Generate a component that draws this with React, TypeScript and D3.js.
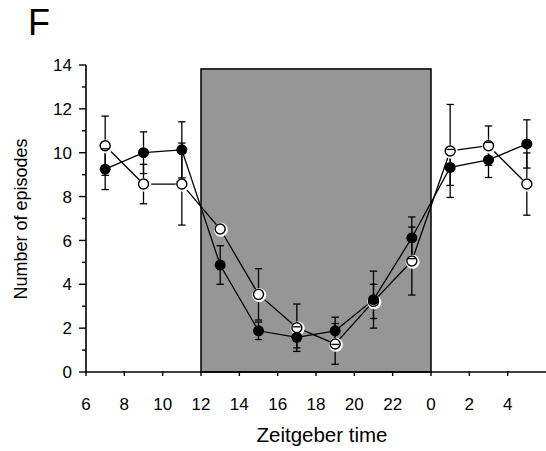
import React from "react";
import * as d3 from "d3";

const width = 546;
const height = 451;
const margin = { top: 65, right: 0, bottom: 79, left: 86 };

// Zeitgeber time (continuous hours, 25 = ZT1 of the next day)
const hours = [7, 9, 11, 13, 15, 17, 19, 21, 23, 25, 27, 29];
const filledMean = [9.25, 10.0, 10.13, 4.88, 1.88, 1.58, 1.88, 3.3, 6.12, 9.33, 9.67, 10.4];
const filledErr = [0.93, 0.95, 1.28, 0.88, 0.4, 0.48, 0.62, 1.3, 0.95, 0.82, 0.8, 1.1];
const openMean = [10.32, 8.57, 8.57, 6.52, 3.54, 2.02, 1.28, 3.22, 5.06, 10.08, 10.32, 8.57];
const openErr = [1.35, 0.9, 1.87, 0.15, 1.17, 1.08, 0.93, 0.78, 1.55, 2.12, 0.9, 1.42];
const darkPhase = [12, 24];
const darkTop = 13.82;
const xTicks = [6, 8, 10, 12, 14, 16, 18, 20, 22, 24, 26, 28];
const yTicks = [0, 2, 4, 6, 8, 10, 12, 14];
const yMinor = [1, 3, 5, 7, 9, 11, 13];

const font = "Arial, 'Liberation Sans', Helvetica, sans-serif";

export default function App() {
  const x = d3.scaleLinear().domain([6, 30]).range([margin.left, width - margin.right]);
  const y = d3.scaleLinear().domain([0, 14]).range([height - margin.bottom, margin.top]);

  const line = d3
    .line<number>()
    .x((d, i) => x(hours[i]))
    .y(d => y(d));

  const series = [
    { mean: filledMean, err: filledErr, open: false },
    { mean: openMean, err: openErr, open: true }
  ];
  const cap = 3.7;
  const r = 5;

  const caps = (s: { mean: number[]; err: number[] }, k: number) =>
    s.mean.map((m, i) =>
      [m - s.err[i], m + s.err[i]].map((v, j) => (
        <line
          key={`c${k}${i}${j}`}
          x1={x(hours[i]) - cap}
          x2={x(hours[i]) + cap}
          y1={y(v)}
          y2={y(v)}
          stroke="#000"
          strokeWidth={1.3}
        />
      ))
    );

  return (
    <svg width={width} height={height} style={{ position: "absolute", left: 0, top: 0 }}>
      <rect width={width} height={height} fill="#fff" />
      <text x={28} y={35} fontFamily={font} fontSize={36}>F</text>

      {/* dark phase */}
      <rect
        x={x(darkPhase[0])}
        y={y(darkTop)}
        width={x(darkPhase[1]) - x(darkPhase[0])}
        height={y(0) - y(darkTop)}
        fill="#969696"
        stroke="#000"
        strokeWidth={1.5}
      />

      {/* connecting lines */}
      {series.map((s, k) => (
        <path key={k} d={line(s.mean) || ""} fill="none" stroke="#000" strokeWidth={1.3} />
      ))}

      {/* error bar stems */}
      {series.map((s, k) =>
        s.mean.map((m, i) => (
          <line
            key={`s${k}${i}`}
            x1={x(hours[i])}
            x2={x(hours[i])}
            y1={y(m - s.err[i])}
            y2={y(m + s.err[i])}
            stroke="#000"
            strokeWidth={1.3}
          />
        ))
      )}
      {caps(series[1], 1)}

      {/* open markers with a white halo */}
      {openMean.map((m, i) => (
        <g key={`o${i}`}>
          <circle cx={x(hours[i]) + 0.8} cy={y(m) + 0.8} r={r + 2} fill="#fff" />
          <circle cx={x(hours[i])} cy={y(m)} r={r} fill="#fff" stroke="#000" strokeWidth={1.4} />
        </g>
      ))}
      {filledMean.map((m, i) => (
        <circle key={`f${i}`} cx={x(hours[i])} cy={y(m)} r={r + 0.5} fill="#000" />
      ))}
      {caps(series[0], 0)}

      {/* y axis */}
      <g fontFamily={font} fontSize={17}>
        <line x1={x(6)} x2={x(6)} y1={y(14)} y2={y(0)} stroke="#000" strokeWidth={1.6} />
        {yTicks.map(t => (
          <g key={t}>
            <line x1={x(6) - 7} x2={x(6)} y1={y(t)} y2={y(t)} stroke="#000" strokeWidth={1.4} />
            <text x={x(6) - 14} y={y(t)} dy="0.36em" textAnchor="end">{t}</text>
          </g>
        ))}
        {yMinor.map(t => (
          <line key={t} x1={x(6) - 4} x2={x(6)} y1={y(t)} y2={y(t)} stroke="#000" strokeWidth={1.4} />
        ))}
      </g>

      {/* x axis */}
      <g fontFamily={font} fontSize={17}>
        <line x1={x(6)} x2={width} y1={y(0)} y2={y(0)} stroke="#000" strokeWidth={1.6} />
        {xTicks.map(t => (
          <g key={t}>
            <line x1={x(t)} x2={x(t)} y1={y(0) - 1} y2={y(0) + 4} stroke="#000" strokeWidth={1.4} />
            <text x={x(t)} y={410} textAnchor="middle">{t % 24}</text>
          </g>
        ))}
      </g>

      <text x={322} y={442} textAnchor="middle" fontFamily={font} fontSize={20.5}>
        Zeitgeber time
      </text>
      <text
        transform={`translate(27, 219) rotate(-90)`}
        textAnchor="middle"
        fontFamily={font}
        fontSize={18}
      >
        Number of episodes
      </text>
    </svg>
  );
}
